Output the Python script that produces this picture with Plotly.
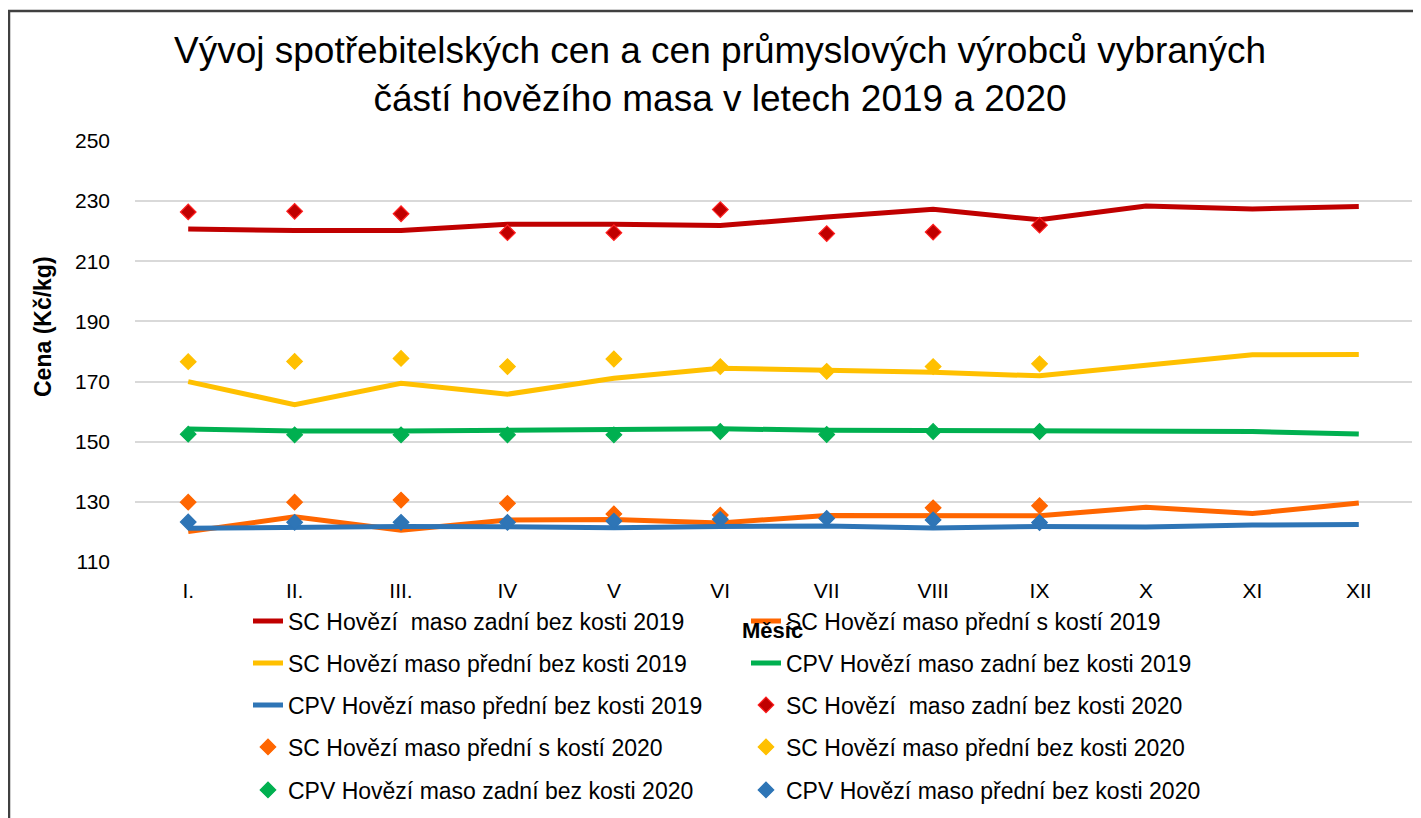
import plotly.graph_objects as go

months = ["I.", "II.", "III.", "IV", "V", "VI", "VII", "VIII", "IX", "X", "XI", "XII"]
months_2020 = months[:9]

# 2019 series (lines)
sc_zadni_bk_2019 = [220.7, 220.2, 220.2, 222.3, 222.3, 221.9, 224.7, 227.3, 223.8, 228.4, 227.4, 228.2]
sc_predni_sk_2019 = [120.1, 125.0, 120.6, 124.0, 124.1, 123.0, 125.5, 125.3, 125.4, 128.2, 126.1, 129.6]
sc_predni_bk_2019 = [170.0, 162.3, 169.4, 165.8, 171.1, 174.4, 173.8, 173.1, 171.9, 175.4, 178.9, 179.0]
cpv_zadni_bk_2019 = [154.2, 153.6, 153.6, 153.8, 153.9, 154.3, 153.8, 153.8, 153.8, 153.8, 153.4, 152.6]
cpv_predni_bk_2019 = [121.2, 121.7, 121.8, 121.7, 121.4, 121.8, 122.0, 121.3, 121.8, 121.6, 122.3, 122.5]

# 2020 series (markers, Jan-Sep)
sc_zadni_bk_2020 = [226.4, 226.6, 225.8, 219.5, 219.5, 227.2, 219.2, 219.7, 222.0]
sc_predni_sk_2020 = [129.9, 129.9, 130.6, 129.5, 126.0, 125.6, None, 128.0, 128.7]
sc_predni_bk_2020 = [176.6, 176.7, 177.7, 175.0, 177.5, 175.0, 173.4, 175.0, 175.9]
cpv_zadni_bk_2020 = [152.5, 152.3, 152.3, 152.3, 152.3, 153.4, 152.4, 153.4, 153.4]
cpv_predni_bk_2020 = [123.3, 123.2, 123.2, 123.2, 123.6, 124.2, 124.5, 124.0, 123.1]

names = [
    "SC Hovězí\u00a0 maso zadní bez kosti 2019",
    "SC Hovězí maso přední s kostí 2019",
    "SC Hovězí maso přední bez kosti 2019",
    "CPV Hovězí maso zadní bez kosti 2019",
    "CPV Hovězí maso přední bez kosti 2019",
    "SC Hovězí\u00a0 maso zadní bez kosti 2020",
    "SC Hovězí maso přední s kostí 2020",
    "SC Hovězí maso přední bez kosti 2020",
    "CPV Hovězí maso zadní bez kosti 2020",
    "CPV Hovězí maso přední bez kosti 2020",
]

RED, ORANGE, YELLOW, GREEN, BLUE = "#C00000", "#FF6600", "#FFC000", "#00B050", "#2E75B6"
FONT = "Arial, 'Liberation Sans', sans-serif"

fig = go.Figure()

line_series = [
    (sc_zadni_bk_2019, RED, "legend"),
    (sc_predni_sk_2019, ORANGE, "legend"),
    (sc_predni_bk_2019, YELLOW, "legend2"),
    (cpv_zadni_bk_2019, GREEN, "legend2"),
    (cpv_predni_bk_2019, BLUE, "legend3"),
]
for i, (vals, col, lg) in enumerate(line_series):
    fig.add_trace(go.Scatter(
        x=months, y=vals, mode="lines", name=names[i],
        line=dict(color=col, width=5), legend=lg, hoverinfo="skip"))

marker_series = [
    (sc_zadni_bk_2020, RED, "#FF2020", "legend3"),
    (sc_predni_sk_2020, ORANGE, ORANGE, "legend4"),
    (sc_predni_bk_2020, YELLOW, YELLOW, "legend4"),
    (cpv_zadni_bk_2020, GREEN, GREEN, "legend5"),
    (cpv_predni_bk_2020, BLUE, BLUE, "legend5"),
]
for j, (vals, col, edge, lg) in enumerate(marker_series):
    fig.add_trace(go.Scatter(
        x=months_2020, y=vals, mode="markers", name=names[5 + j],
        marker=dict(symbol="diamond", size=12, color=col, line=dict(color=edge, width=1.2)),
        legend=lg, hoverinfo="skip"))

# The page body has an 8px margin; the figure is shrunk and all
# reference pixel positions are shifted by it.
OFF = 8
W, H = 1421 - OFF, 818 - OFF
# plot area in reference px: left 135, right 1412, top 141, bottom 562
L, R, T, B = 135 - OFF, 1412 - OFF, 141 - OFF, 562 - OFF
PW, PH = R - L, B - T


def px_x(x):
    return (x - OFF - L) / PW


def px_y(y):
    return (B - (y - OFF)) / PH


row_centers = [621, 663, 705, 747, 790]
legend_common = dict(
    orientation="h", xanchor="left", yanchor="middle", x=px_x(248),
    entrywidth=453, entrywidthmode="pixels", itemwidth=30,
    font=dict(family=FONT, size=23, color="#000000"),
    bgcolor="rgba(0,0,0,0)", borderwidth=0, traceorder="normal",
)
legend_layout = {}
for k, yc in enumerate(row_centers):
    key = "legend" if k == 0 else f"legend{k+1}"
    legend_layout[key] = dict(legend_common, y=px_y(yc))

fig.update_layout(
    width=W, height=H,
    margin=dict(l=L, r=W - R, t=T, b=H - B, autoexpand=False),
    paper_bgcolor="white", plot_bgcolor="white",
    font=dict(family=FONT, color="#000000"),
    title=dict(
        text="Vývoj spotřebitelských cen a cen průmyslových výrobců vybraných<br>částí hovězího masa v letech 2019 a 2020",
        x=(720 - OFF) / W, xanchor="center", xref="container",
        y=1 - (63 - OFF) / H, yanchor="middle",
        font=dict(family=FONT, size=37, color="#000000")),
    showlegend=True,
    **legend_layout,
)

fig.update_xaxes(
    type="category", categoryorder="array", categoryarray=months,
    range=[-0.5, 11.5], showgrid=False, zeroline=False, showline=False,
    ticks="", ticklabelstandoff=14,
    tickfont=dict(family=FONT, size=21, color="#000000"),
)
fig.update_yaxes(
    range=[110, 250], dtick=20, tick0=110, showgrid=True,
    gridcolor="#D9D9D9", gridwidth=1.5, zeroline=False, showline=False,
    ticks="", ticklabelstandoff=24,
    tickfont=dict(family=FONT, size=21, color="#000000"),
)

fig.add_annotation(
    text="<b>Cena (Kč/kg)</b>", textangle=-90, showarrow=False,
    xref="paper", yref="paper", x=px_x(43), y=px_y(327),
    xanchor="center", yanchor="middle",
    font=dict(family=FONT, size=23, color="#000000"))
fig.add_annotation(
    text="<b>Měsíc</b>", showarrow=False,
    xref="paper", yref="paper", x=px_x(772), y=px_y(630),
    xanchor="center", yanchor="middle",
    font=dict(family=FONT, size=22, color="#000000"))

# outer chart border
fig.add_shape(
    type="rect", xref="paper", yref="paper",
    x0=px_x(9), x1=px_x(1440), y0=px_y(840), y1=px_y(11),
    line=dict(color="#404040", width=2.5), fillcolor="rgba(0,0,0,0)", layer="below")

fig.write_html("out.html")
